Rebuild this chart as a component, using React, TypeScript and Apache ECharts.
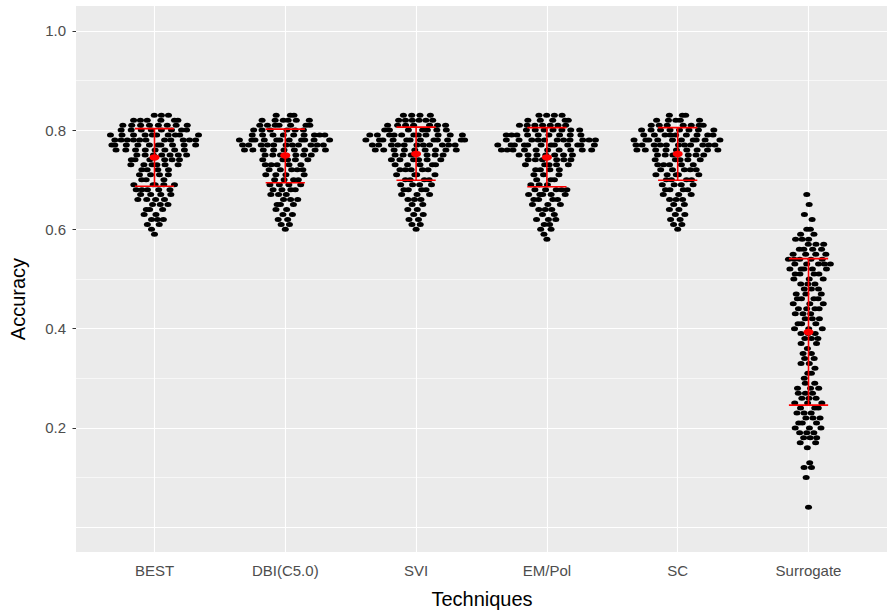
import React, { useEffect, useRef } from "react";
import * as echarts from "echarts";

// ---------- data ----------
const categories = ["BEST", "DBI(C5.0)", "SVI", "EM/Pol", "SC", "Surrogate"];
// lowest 0.01-wide accuracy bin holding a run, per technique
const lowestBin = [0.59, 0.6, 0.6, 0.58, 0.6, 0.04];
// number of runs in each 0.01 accuracy bin, from the lowest bin upward
const countsBEST = [1, 1, 2, 3, 2, 3, 3, 4, 4, 5, 5, 3, 4, 4, 6, 6, 7, 8, 10, 11, 10, 8, 8, 6, 3];
const countsDBI = [1, 2, 2, 2, 2, 3, 3, 3, 4, 4, 4, 4, 5, 5, 5, 6, 9, 11, 11, 9, 6, 7, 6, 3];
const countsSVI = [1, 2, 2, 2, 2, 2, 3, 3, 4, 4, 4, 4, 5, 5, 6, 6, 9, 11, 12, 11, 7, 7, 6, 4];
const countsEMPol = [1, 1, 2, 2, 3, 2, 3, 3, 4, 5, 5, 3, 3, 3, 4, 5, 6, 7, 10, 12, 11, 9, 7, 7, 5, 4];
const countsSC = [1, 2, 2, 2, 2, 2, 3, 3, 4, 4, 4, 5, 5, 5, 5, 6, 9, 11, 10, 9, 8, 7, 5, 3];
const countsSurrogate = [
  1, 0, 0, 0, 0, 0, 1, 0, 2, 1, 0, 0, 1, 2, 3, 3, 3, 3, 3, 3, 3, 3, 3, 3, 3, 2, 1, 2, 1, 2, 2, 2,
  1, 2, 3, 3, 3, 3, 3, 3, 4, 3, 4, 3, 3, 3, 3, 4, 5, 5, 5, 4, 4, 3, 3, 2, 2, 0, 1, 1, 0, 1, 0, 1,
];
const meanAccuracy = [0.745, 0.749, 0.752, 0.745, 0.752, 0.393];
const lowerBar = [0.687, 0.694, 0.699, 0.686, 0.699, 0.246];
const upperBar = [0.803, 0.802, 0.806, 0.805, 0.805, 0.541];
const yTickValues = [0.2, 0.4, 0.6, 0.8, 1.0];
const yGridValues = [0.0, 0.1, 0.2, 0.3, 0.4, 0.5, 0.6, 0.7, 0.8, 0.9, 1.0];

const allCounts = [countsBEST, countsDBI, countsSVI, countsEMPol, countsSC, countsSurrogate];

// ---------- layout / style ----------
const GRID_LEFT = 76;
const GRID_TOP = 6;
const GRID_W = 813;
const GRID_H = 546;
const X_MIN = 0.4;
const X_MAX = 6.6;
const DOT_GAP_PX = 9.5;
const CAP_HALF = 0.15; // error bar cap half width in category units
const FONT = "'Liberation Sans', Arial, Helvetica, sans-serif";
const ELLIPSE = "path://M0 5A5 5 0 1 0 10 5A5 5 0 1 0 0 5Z";

// van der Corput sequence (base 2), used for a quasirandom swarm layout
function vdc(i: number) {
  let v = 0;
  let d = 1;
  while (i > 0) {
    d *= 2;
    v += (i % 2) / d;
    i = Math.floor(i / 2);
  }
  return v;
}

function buildPoints() {
  const pxPerUnit = GRID_W / (X_MAX - X_MIN);
  const pts: number[][] = [];
  allCounts.forEach((counts, g) => {
    let idx = 1;
    counts.forEach((n, j) => {
      const y = +(lowestBin[g] + j * 0.01).toFixed(2);
      const prev = j > 0 ? counts[j - 1] : 0;
      const next = j < counts.length - 1 ? counts[j + 1] : 0;
      const dens = Math.max(1, (prev + 2 * n + next) / 4);
      const widthPx = dens * DOT_GAP_PX;
      for (let k = 0; k < n; k++) {
        const off = ((vdc(idx) - 0.5) * widthPx) / pxPerUnit;
        idx++;
        pts.push([g + 1 + off, y]);
      }
    });
  });
  return pts;
}

export default function App() {
  const ref = useRef<HTMLDivElement>(null);
  useEffect(() => {
    if (!ref.current) return;
    const chart = echarts.init(ref.current, undefined, { renderer: "svg" });
    const catValues = categories.map((_, i) => i + 1);
    const option: any = {
      animation: false,
      textStyle: { fontFamily: FONT },
      grid: {
        left: GRID_LEFT,
        top: GRID_TOP,
        width: GRID_W,
        height: GRID_H,
        show: true,
        backgroundColor: "#EBEBEB",
        borderWidth: 0,
      },
      xAxis: {
        type: "value",
        min: X_MIN,
        max: X_MAX,
        axisLine: { show: false },
        splitLine: { show: false },
        axisTick: {
          show: true,
          customValues: catValues,
          length: 3.5,
          lineStyle: { color: "#333333", width: 1 },
        },
        axisLabel: {
          customValues: catValues,
          formatter: (v: number) => categories[Math.round(v) - 1] ?? "",
          color: "#4D4D4D",
          fontSize: 15,
          fontFamily: FONT,
          margin: 11,
        },
      },
      yAxis: {
        type: "value",
        min: -0.05,
        max: 1.05,
        axisLine: { show: false },
        splitLine: { show: false },
        axisTick: {
          show: true,
          customValues: yTickValues,
          length: 3.5,
          lineStyle: { color: "#333333", width: 1 },
        },
        axisLabel: {
          customValues: yTickValues,
          formatter: (v: number) => v.toFixed(1),
          color: "#4D4D4D",
          fontSize: 15,
          fontFamily: FONT,
          margin: 10,
        },
      },
      graphic: [
        {
          type: "text",
          x: 17.5,
          y: 299,
          rotation: Math.PI / 2,
          style: {
            text: "Accuracy",
            fontSize: 20,
            fontFamily: FONT,
            fill: "#000000",
            align: "center",
            verticalAlign: "middle",
          },
        },
        {
          type: "text",
          x: 482,
          y: 599,
          style: {
            text: "Techniques",
            fontSize: 20,
            fontFamily: FONT,
            fill: "#000000",
            align: "center",
            verticalAlign: "middle",
          },
        },
      ],
      series: [
        {
          type: "scatter",
          name: "grid",
          data: [],
          z: 1,
          silent: true,
          markLine: {
            silent: true,
            z: 1,
            symbol: ["none", "none"],
            label: { show: false },
            emphasis: { disabled: true },
            animation: false,
            lineStyle: { color: "#FFFFFF", type: "solid", width: 1.1 },
            data: [
              ...yGridValues.map((v, i) => ({
                yAxis: v,
                lineStyle: { color: "#FFFFFF", type: "solid", width: i % 2 === 0 ? 1.1 : 0.6 },
              })),
              ...catValues.map((v) => ({
                xAxis: v,
                lineStyle: { color: "#FFFFFF", type: "solid", width: 1.1 },
              })),
            ],
          },
        },
        {
          type: "scatter",
          name: "runs",
          z: 2,
          silent: true,
          symbol: ELLIPSE,
          symbolSize: [7, 5],
          itemStyle: { color: "#000000", opacity: 1 },
          data: buildPoints(),
        },
        {
          type: "custom",
          name: "sd",
          z: 3,
          silent: true,
          data: categories.map((_, i) => [i + 1, lowerBar[i], upperBar[i]]),
          renderItem: (params: any, api: any) => {
            const x = api.value(0);
            const lo = api.coord([x, api.value(1)]);
            const hi = api.coord([x, api.value(2)]);
            const loL = api.coord([x - CAP_HALF, api.value(1)]);
            const loR = api.coord([x + CAP_HALF, api.value(1)]);
            const hiL = api.coord([x - CAP_HALF, api.value(2)]);
            const hiR = api.coord([x + CAP_HALF, api.value(2)]);
            const st = { stroke: "#FF0000", lineWidth: 1.6, fill: "none" };
            return {
              type: "group",
              children: [
                { type: "line", shape: { x1: lo[0], y1: lo[1], x2: hi[0], y2: hi[1] }, style: st },
                { type: "line", shape: { x1: loL[0], y1: loL[1], x2: loR[0], y2: loR[1] }, style: st },
                { type: "line", shape: { x1: hiL[0], y1: hiL[1], x2: hiR[0], y2: hiR[1] }, style: st },
              ],
            };
          },
        },
        {
          type: "scatter",
          name: "mean",
          z: 4,
          silent: true,
          symbol: ELLIPSE,
          symbolSize: [10, 6.5],
          itemStyle: { color: "#FF0000", opacity: 1 },
          data: categories.map((_, i) => [i + 1, meanAccuracy[i]]),
        },
      ],
    };
    chart.setOption(option);
    return () => chart.dispose();
  }, []);
  return (
    <div
      ref={ref}
      style={{ position: "absolute", left: 0, top: 0, width: 887, height: 610, background: "#FFFFFF" }}
    />
  );
}
